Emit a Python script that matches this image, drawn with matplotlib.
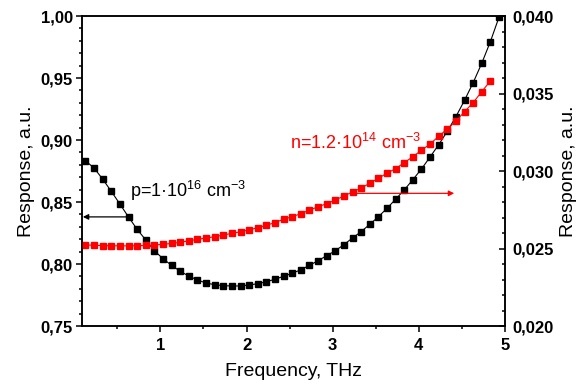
import matplotlib
matplotlib.use("Agg")
import matplotlib.pyplot as plt
from matplotlib.ticker import MultipleLocator, FuncFormatter

# frequency points, THz
freq = [0.13, 0.23, 0.33, 0.43, 0.53, 0.63, 0.73, 0.83, 0.93, 1.03,
        1.13, 1.23, 1.33, 1.43, 1.53, 1.63, 1.73, 1.83, 1.93, 2.03,
        2.13, 2.23, 2.33, 2.43, 2.53, 2.63, 2.73, 2.83, 2.93, 3.03,
        3.13, 3.23, 3.33, 3.43, 3.53, 3.63, 3.73, 3.83, 3.93, 4.03,
        4.13, 4.23, 4.33, 4.43, 4.53, 4.63, 4.73, 4.83, 4.93]

# p-type sample (left axis)
resp_p = [0.8833, 0.8774, 0.8685, 0.8586, 0.8484, 0.8379, 0.8280, 0.8194, 0.8107, 0.8043,
          0.7989, 0.7941, 0.7903, 0.7871, 0.7847, 0.7833, 0.7825, 0.7823, 0.7823, 0.7831,
          0.7841, 0.7857, 0.7877, 0.7901, 0.7925, 0.7954, 0.7989, 0.8027, 0.8067, 0.8107,
          0.8156, 0.8210, 0.8261, 0.8320, 0.8381, 0.8449, 0.8522, 0.8597, 0.8680, 0.8766,
          0.8863, 0.8962, 0.9070, 0.9188, 0.9320, 0.9462, 0.9619, 0.9793, 0.9990]

# n-type sample (right axis)
resp_n = [0.02523, 0.02521, 0.02519, 0.02518, 0.02517, 0.02517, 0.02518, 0.02520, 0.02523, 0.02527,
          0.02533, 0.02540, 0.02550, 0.02559, 0.02568, 0.02576, 0.02587, 0.02598, 0.02608, 0.02621,
          0.02634, 0.02650, 0.02667, 0.02689, 0.02705, 0.02725, 0.02747, 0.02770, 0.02789, 0.02813,
          0.02839, 0.02865, 0.02890, 0.02921, 0.02953, 0.02986, 0.03015, 0.03054, 0.03092, 0.03134,
          0.03174, 0.03224, 0.03271, 0.03321, 0.03383, 0.03441, 0.03512, 0.03581]

plt.rcParams['font.family'] = ['Liberation Sans', 'DejaVu Sans']
plt.rcParams['mathtext.fontset'] = 'custom'
plt.rcParams['mathtext.rm'] = 'Liberation Sans'
plt.rcParams['mathtext.it'] = 'Liberation Sans:italic'
plt.rcParams['mathtext.bf'] = 'Liberation Sans:bold'

RED = '#ff0000'

fig = plt.figure(figsize=(5.79, 3.85), dpi=100)
ax = fig.add_axes([0.1416, 0.1532, 0.7306, 0.8052])
ax2 = ax.twinx()

ax.plot(freq, resp_p, color='black', lw=0.8, marker='s', ms=4.6, mec='black', mfc='black')
ax2.plot(freq[:len(resp_n)], resp_n, color=RED, lw=0.8, marker='s', ms=4.6, mec=RED, mfc=RED)

ax.set_xlim(0.09, 5.0)
ax.set_ylim(0.75, 1.00)
ax2.set_ylim(0.020, 0.040)

ax.xaxis.set_major_locator(MultipleLocator(1))
ax.xaxis.set_minor_locator(MultipleLocator(0.5))
ax.yaxis.set_major_locator(MultipleLocator(0.05))
ax.yaxis.set_minor_locator(MultipleLocator(0.01))
ax2.yaxis.set_major_locator(MultipleLocator(0.005))
ax2.yaxis.set_minor_locator(MultipleLocator(0.001))

ax.yaxis.set_major_formatter(FuncFormatter(lambda v, p: f"{v:.2f}".replace('.', ',')))
ax2.yaxis.set_major_formatter(FuncFormatter(lambda v, p: f"{v:.3f}".replace('.', ',')))
ax.xaxis.set_major_formatter(FuncFormatter(lambda v, p: f"{v:g}"))

for a in (ax, ax2):
    for s in a.spines.values():
        s.set_linewidth(1.1)

ax.tick_params(axis='x', which='major', direction='out', length=4.5, width=1.1, labelsize=12, pad=4)
ax.tick_params(axis='x', which='minor', direction='out', length=2.5, width=1.1)
ax.tick_params(axis='y', which='major', direction='out', length=4.5, width=1.1, labelsize=12, pad=2)
ax.tick_params(axis='y', which='minor', direction='out', length=2.5, width=1.1)
ax2.tick_params(axis='y', which='major', direction='in', length=4.5, width=1.1, labelsize=12, pad=5)
ax2.tick_params(axis='y', which='minor', direction='in', length=2.5, width=1.1)

for lab in ax.get_xticklabels() + ax.get_yticklabels() + ax2.get_yticklabels():
    lab.set_fontweight('bold')

ax.set_xlabel("Frequency, THz", fontsize=14, labelpad=7)
ax.set_ylabel("Response, a.u.", fontsize=14, labelpad=4)
ax2.set_ylabel("Response, a.u.", fontsize=14, labelpad=5)

# annotations
ax.text(0.65, 0.8590, r"p=1·10$^{16}$ cm$^{-3}$", fontsize=13, color='black', va='center', ha='left')
ax.annotate("", xy=(0.1, 0.838), xytext=(0.64, 0.838),
            arrowprops=dict(arrowstyle='-|>', color='black', lw=0.9, mutation_scale=8, shrinkA=0, shrinkB=0))
ax2.text(2.51, 0.0318, r"n=1.2·10$^{14}$ cm$^{-3}$", fontsize=13, color=RED, va='center', ha='left')
ax2.annotate("", xy=(4.41, 0.02856), xytext=(3.25, 0.02856),
             arrowprops=dict(arrowstyle='-|>', color=RED, lw=0.9, mutation_scale=8, shrinkA=0, shrinkB=0))

fig.savefig("out.png", dpi=100)
